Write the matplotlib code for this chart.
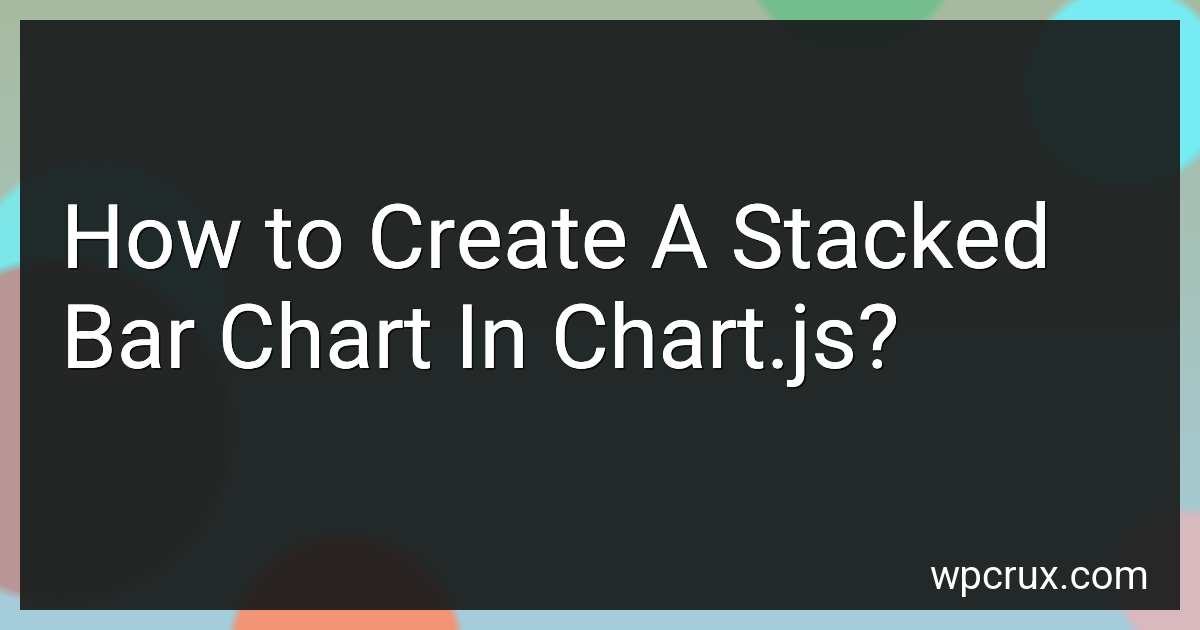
import matplotlib
matplotlib.use("Agg")
import matplotlib.pyplot as plt
import matplotlib.patheffects as pe
from matplotlib.patches import Rectangle
import numpy as np

# title card texts
title_lines = ["How to Create A Stacked", "Bar Chart In Chart.js?"]
site_name = "wpcrux.com"

W, H = 1200, 630

# blurred bokeh blobs behind the panel: (cx, cy, radius, rgb)
blob_x = [95, 60, 345, 1125, 850, 1185]
blob_y = [290, 430, 650, 85, -60, 580]
blob_r = [130, 170, 115, 100, 110, 70]
blob_c = [(125, 230, 232), (185, 150, 150), (242, 148, 118),
          (118, 236, 242), (115, 190, 140), (215, 185, 190)]


def background():
    yy, xx = np.mgrid[0:H, 0:W].astype(float)
    # base: greyish green at top, light blue lower down
    t = (yy / H)[..., None]
    top = np.array([168, 186, 160], float)
    bot = np.array([165, 205, 220], float)
    img = top * (1 - t) + bot * t
    for cx, cy, r, c in zip(blob_x, blob_y, blob_r, blob_c):
        d = np.sqrt((xx - cx) ** 2 + (yy - cy) ** 2)
        a = np.clip((r - d) / 10 + 0.5, 0, 1)[..., None]
        img = img * (1 - a) + np.array(c, float) * a
    return np.clip(img / 255, 0, 1)


fig = plt.figure(figsize=(12, 6.3), dpi=100)
ax = fig.add_axes([0, 0, 1, 1])
ax.set_xlim(0, W)
ax.set_ylim(H, 0)
ax.axis("off")

ax.imshow(background(), extent=(0, W, H, 0), interpolation="bilinear", zorder=0)
ax.add_patch(Rectangle((20, 20), 1160, 590, facecolor="#191c1c", alpha=0.93,
                       edgecolor="none", zorder=1))

shadow = [pe.withSimplePatchShadow(offset=(1.2, -1.2), shadow_rgbFace="black", alpha=0.7),
          pe.Normal()]
for i, line in enumerate(title_lines):
    ax.text(61, 268 + i * 100, line, fontsize=64.3, family="Roboto", color="white",
            ha="left", va="baseline", zorder=3, path_effects=shadow)

ax.text(1149, 589, site_name, fontsize=29, family="Roboto", color="white",
        ha="right", va="baseline", zorder=3)

fig.savefig("out.png", dpi=100)
